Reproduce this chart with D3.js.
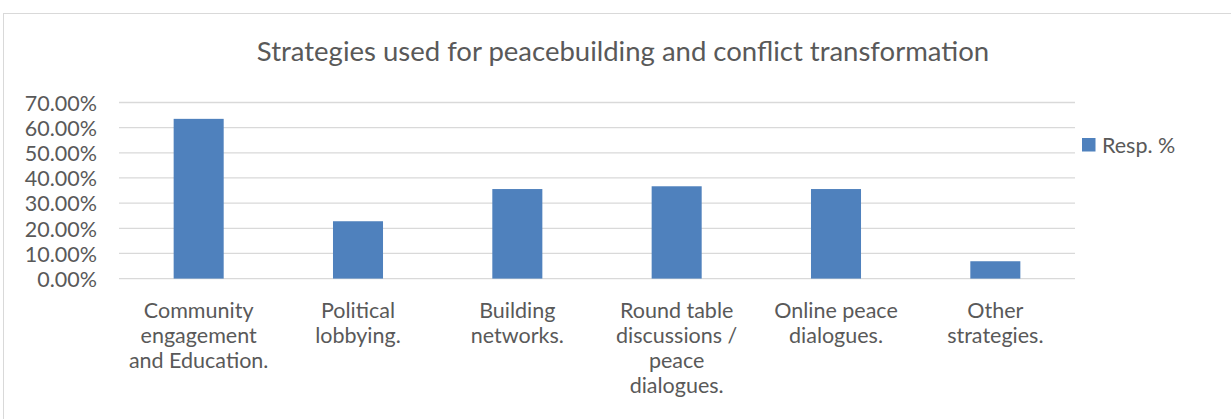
<!DOCTYPE html>
<html>
<head>
<meta charset="utf-8">
<script src="https://cdn.jsdelivr.net/npm/d3@7"></script>
<style>
  html, body { margin: 0; padding: 0; background: #fff; }
  svg { display: block; }
  text { font-family: Lato, "Open Sans", sans-serif; fill: #595959; }
</style>
</head>
<body>
<svg id="chart" width="1231" height="419"></svg>
<script>
// Survey responses: strategies used for peacebuilding and conflict transformation
const categories = [
  "Community engagement and Education.",
  "Political lobbying.",
  "Building networks.",
  "Round table discussions / peace dialogues.",
  "Online peace dialogues.",
  "Other strategies."
];
// Category labels as they break across lines under each bar
const categoryLines = [
  ["Community", "engagement", "and Education."],
  ["Political", "lobbying."],
  ["Building", "networks."],
  ["Round table", "discussions /", "peace", "dialogues."],
  ["Online peace", "dialogues."],
  ["Other", "strategies."]
];
const respPct = [63.5, 22.8, 35.6, 36.7, 35.6, 6.9];
const yTicks = [0, 10, 20, 30, 40, 50, 60, 70];
const seriesName = "Resp. %";
const titleText = "Strategies used for peacebuilding and conflict transformation";

const svg = d3.select("#chart");
const W = 1231, H = 419;
const plot = { left: 119, right: 1075, top: 102.5, bottom: 278.6 };
const labelSize = "21.5px";

// Outer chart frame
svg.append("rect")
  .attr("x", 3.5).attr("y", 13.5)
  .attr("width", W + 10).attr("height", H + 10)
  .attr("fill", "none").attr("stroke", "#d9d9d9").attr("stroke-width", 1);

// Title
svg.append("text")
  .attr("x", 623)
  .attr("y", 61)
  .attr("text-anchor", "middle")
  .style("font-size", "27.5px")
  .text(titleText);

const x = d3.scaleBand()
  .domain(categories)
  .range([plot.left, plot.right])
  .paddingInner(0.686)
  .paddingOuter(0.343);

const y = d3.scaleLinear()
  .domain([0, 70])
  .range([plot.bottom, plot.top]);

// Gridlines
svg.append("g")
  .selectAll("line")
  .data(yTicks)
  .join("line")
  .attr("x1", plot.left).attr("x2", plot.right)
  .attr("y1", d => y(d)).attr("y2", d => y(d))
  .attr("stroke", "#d9d9d9").attr("stroke-width", 1.3);

// Y axis labels
const yAxis = d3.axisLeft(y)
  .tickValues(yTicks)
  .tickSize(0)
  .tickPadding(0)
  .tickFormat(d => d.toFixed(2) + "%");
const yg = svg.append("g")
  .attr("transform", `translate(${plot.left - 22},0)`)
  .call(yAxis);
yg.select(".domain").remove();
yg.selectAll("text")
  .attr("dy", "0.36em")
  .style("font-size", labelSize)
  .style("font-family", "Lato, sans-serif")
  .attr("fill", "#595959");

// Bars
svg.append("g")
  .selectAll("rect")
  .data(categories.map((c, i) => ({ c, v: respPct[i] })))
  .join("rect")
  .attr("x", d => x(d.c))
  .attr("width", x.bandwidth())
  .attr("y", d => y(d.v))
  .attr("height", d => y(0) - y(d.v))
  .attr("fill", "#4f81bd");

// Category labels under the axis
const xl = svg.append("g");
categories.forEach((c, i) => {
  const t = xl.append("text")
    .attr("x", x(c) + x.bandwidth() / 2)
    .attr("y", 318)
    .attr("text-anchor", "middle")
    .style("font-size", labelSize);
  categoryLines[i].forEach((ln, j) => {
    t.append("tspan")
      .attr("x", x(c) + x.bandwidth() / 2)
      .attr("dy", j === 0 ? 0 : 25)
      .text(ln);
  });
});

// Legend
const lg = svg.append("g").attr("transform", "translate(1082,138)");
lg.append("rect").attr("width", 13.5).attr("height", 13.5).attr("fill", "#4f81bd");
lg.append("text").attr("x", 20).attr("y", 14.5)
  .style("font-size", labelSize)
  .text(seriesName);
</script>
</body>
</html>
